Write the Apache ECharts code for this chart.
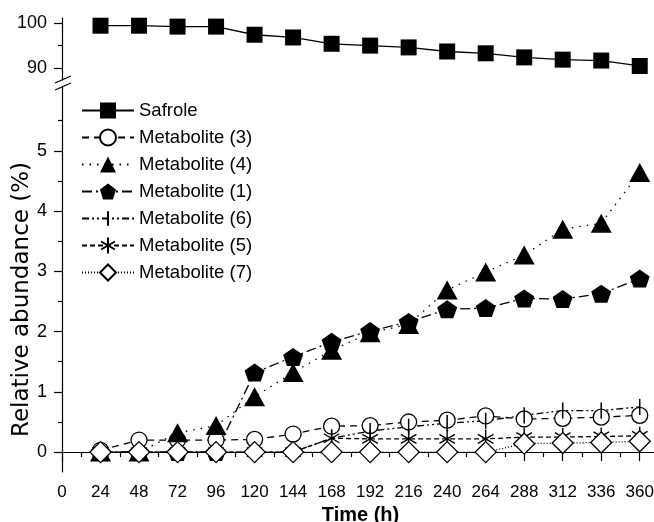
<!DOCTYPE html>
<html>
<head>
<meta charset="utf-8">
<title>Relative abundance</title>
<script src="https://cdn.jsdelivr.net/npm/echarts@6/dist/echarts.min.js"></script>
<style>
  html, body { margin: 0; padding: 0; background: #fff; }
  #chart { width: 654px; height: 522px; }
</style>
</head>
<body>
<div id="chart"></div>
<script>
// sampling times (h)
const hours = [24, 48, 72, 96, 120, 144, 168, 192, 216, 240, 264, 288, 312, 336, 360];

// relative abundance (%) per compound
const safrole = [99.4, 99.4, 99.2, 99.2, 97.4, 96.8, 95.4, 95.0, 94.6, 93.7, 93.3, 92.4, 91.9, 91.7, 90.5];
const met3 = [0.03, 0.2, 0.2, 0.2, 0.21, 0.3, 0.43, 0.44, 0.5, 0.53, 0.6, 0.55, 0.56, 0.58, 0.61];
const met4 = [0, 0, 0.32, 0.44, 0.92, 1.32, 1.69, 1.98, 2.12, 2.69, 2.99, 3.27, 3.7, 3.8, 4.64];
const met1 = [0, 0, 0, 0, 1.32, 1.58, 1.83, 2.01, 2.16, 2.37, 2.39, 2.55, 2.54, 2.63, 2.88];
const met6 = [0, 0, 0, 0, 0, 0, 0.23, 0.35, 0.42, 0.48, 0.52, 0.61, 0.69, 0.69, 0.75];
const met5 = [0, 0, 0, 0, 0, 0, 0.23, 0.22, 0.22, 0.22, 0.22, 0.25, 0.25, 0.26, 0.27];
const met7 = [0, 0, 0, 0, 0, 0, 0, 0, 0, 0, 0, 0.14, 0.15, 0.16, 0.18];

// tick labels
const upperTicks = [90, 100];
const upperMinor = [95];
const lowerTicks = [0, 1, 2, 3, 4, 5];
const lowerMinor = [0.5, 1.5, 2.5, 3.5, 4.5, 5.5];

const FONT = "'Liberation Sans', Arial, sans-serif";
const pentagon = 'path://M10,0L19.51,6.91L15.88,18.09L4.12,18.09L0.49,6.91Z';
const asterisk = 'path://M0,0M10,0L10,20M1.34,5L18.66,15M1.34,15L18.66,5M20,20';
const vbar = 'path://M0,0M10,1L10,19M20,20';

const pairs = vals => hours.map((h, i) => [h, vals[i]]);

const chart = echarts.init(document.getElementById('chart'));

function lowerSeries(name, vals, symbol, size, dash, fill, stroke) {
  return {
    name: name,
    type: 'line',
    xAxisIndex: 1,
    yAxisIndex: 2,
    data: pairs(vals),
    symbol: symbol,
    symbolSize: size,
    showAllSymbol: true,
    lineStyle: { color: '#000', width: 1.3, type: dash },
    itemStyle: {
      color: fill,
      borderColor: '#000',
      borderWidth: stroke
    },
    emphasis: { disabled: true }
  };
}

const tickStyle = { color: '#000', width: 1.2 };

const option = {
  animation: false,
  backgroundColor: '#fff',
  textStyle: { fontFamily: FONT, color: '#000' },
  grid: [
    { left: 62, top: 18, width: 597, height: 62, outerBoundsMode: 'none', containLabel: false },
    { left: 62, top: 87, width: 597, height: 385, outerBoundsMode: 'none', containLabel: false }
  ],
  legend: {
    orient: 'vertical',
    left: 76,
    top: 96,
    itemWidth: 52,
    itemHeight: 20,
    itemGap: 8,
    textStyle: { fontSize: 18.5, fontFamily: FONT, color: '#000' },
    data: ['Safrole', 'Metabolite (3)', 'Metabolite (4)', 'Metabolite (1)',
      'Metabolite (6)', 'Metabolite (5)', 'Metabolite (7)']
  },
  xAxis: [
    { gridIndex: 0, type: 'value', min: 0, max: 372, show: false },
    {
      gridIndex: 1,
      type: 'value',
      min: 0,
      max: 372,
      interval: 24,
      name: 'Time (h)',
      nameLocation: 'middle',
      nameGap: 30,
      nameTextStyle: { fontSize: 20, fontWeight: 'bold', color: '#000', fontFamily: FONT },
      axisLine: { lineStyle: tickStyle },
      axisTick: { length: 9, lineStyle: tickStyle },
      minorTick: { show: true, splitNumber: 2, length: 5, lineStyle: tickStyle },
      axisLabel: {
        fontSize: 17,
        color: '#000',
        margin: 12,
        formatter: v => (v > 360 ? '' : String(v))
      },
      splitLine: { show: false }
    }
  ],
  yAxis: [
    {
      gridIndex: 0,
      type: 'value',
      min: 87.4,
      max: 101.1,
      axisLine: { show: true, lineStyle: tickStyle },
      axisTick: { show: true, length: 8, customValues: upperTicks, lineStyle: tickStyle },
      axisLabel: { fontSize: 18, color: '#000', margin: 15, customValues: upperTicks },
      splitLine: { show: false }
    },
    {
      gridIndex: 0,
      type: 'value',
      position: 'left',
      min: 87.4,
      max: 101.1,
      axisLine: { show: false },
      axisTick: { show: true, length: 4, customValues: upperMinor, lineStyle: tickStyle },
      axisLabel: { show: false },
      splitLine: { show: false }
    },
    {
      gridIndex: 1,
      type: 'value',
      min: -0.33,
      max: 6.06,
      name: 'Relative abundance (%)',
      nameLocation: 'middle',
      nameGap: 28,
      nameMoveOverlap: false,
      nameTextStyle: { fontSize: 23, color: '#000', fontFamily: "'DejaVu Sans', sans-serif", padding: [0, 40, 0, 0] },
      axisLine: { show: true, lineStyle: tickStyle },
      axisTick: { show: true, length: 8, customValues: lowerTicks, lineStyle: tickStyle },
      axisLabel: { fontSize: 18, color: '#000', margin: 15, customValues: lowerTicks },
      splitLine: { show: false }
    },
    {
      gridIndex: 1,
      type: 'value',
      position: 'left',
      min: -0.33,
      max: 6.06,
      axisLine: { show: false },
      axisTick: { show: true, length: 4, customValues: lowerMinor, lineStyle: tickStyle },
      axisLabel: { show: false },
      splitLine: { show: false }
    }
  ],
  graphic: [
    // axis break marks
    { type: 'line', shape: { x1: 55, y1: 83, x2: 71, y2: 76 }, style: { stroke: '#000', lineWidth: 1.3 }, z: 100 },
    { type: 'line', shape: { x1: 55, y1: 90, x2: 71, y2: 83 }, style: { stroke: '#000', lineWidth: 1.3 }, z: 100 },
    { type: 'rect', shape: { x: 61, y: 80.5, width: 3, height: 6 }, style: { fill: '#fff' }, z: 99 }
  ],
  series: [
    {
      name: 'Safrole',
      type: 'line',
      xAxisIndex: 0,
      yAxisIndex: 0,
      data: pairs(safrole),
      symbol: 'rect',
      symbolSize: 16,
      lineStyle: { color: '#000', width: 1.3, type: 'solid' },
      itemStyle: { color: '#000' },
      emphasis: { disabled: true }
    },
    lowerSeries('Metabolite (3)', met3, 'circle', 16, [7, 5], '#fff', 1.3),
    lowerSeries('Metabolite (4)', met4, 'triangle', [21, 19], [1.5, 6], '#000', 0),
    lowerSeries('Metabolite (1)', met1, pentagon, [20, 18], [10, 4, 2, 4], '#000', 0),
    lowerSeries('Metabolite (6)', met6, vbar, 18, [7, 3, 2, 3, 2, 3], 'transparent', 1.5),
    lowerSeries('Metabolite (5)', met5, asterisk, 18, [5, 3], 'transparent', 1.4),
    lowerSeries('Metabolite (7)', met7, 'diamond', [21, 21], [1, 2], '#fff', 1.3)
  ]
};

chart.setOption(option);
</script>
</body>
</html>
